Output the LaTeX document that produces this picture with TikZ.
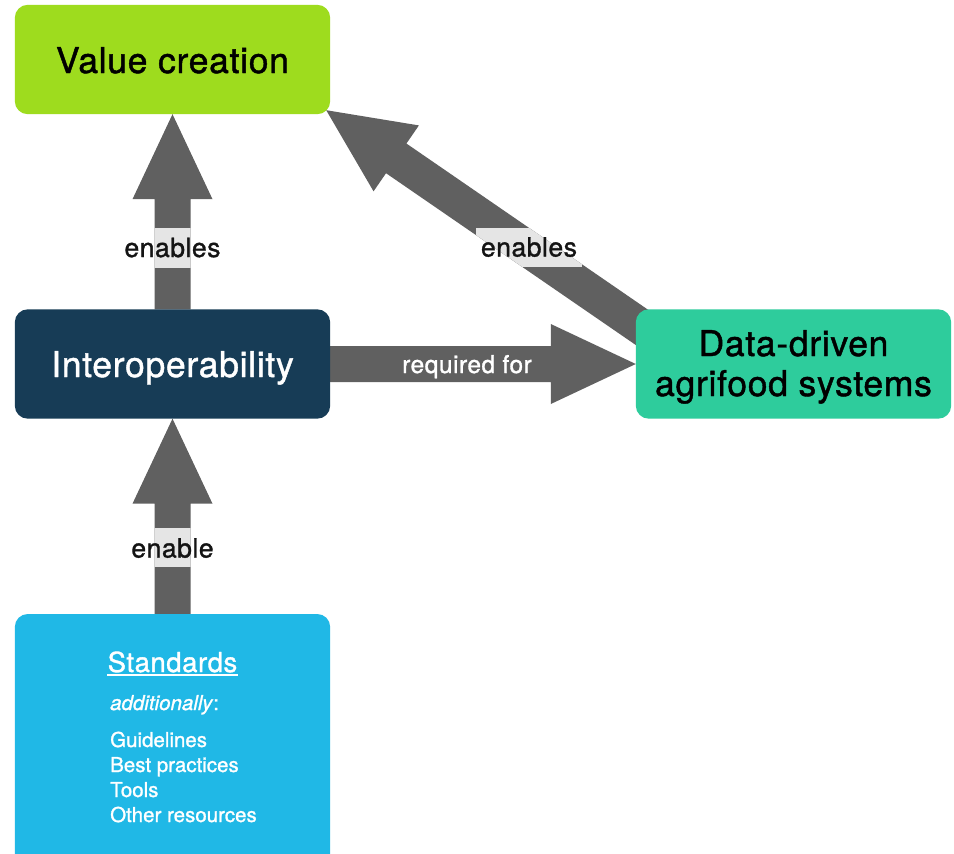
\documentclass[tikz,border=0pt]{standalone}
\usepackage{fontspec}
\setmainfont{TeX Gyre Heros}[FakeBold=1.2]
\usetikzlibrary{calc}
\definecolor{valuegreen}{RGB}{158,220,30}
\definecolor{interopblue}{RGB}{23,60,86}
\definecolor{datagreen}{RGB}{46,204,156}
\definecolor{stdblue}{RGB}{32,184,230}
\definecolor{arrowgray}{RGB}{96,96,96}
\definecolor{labelbg}{RGB}{229,229,229}
\definecolor{textdark}{RGB}{20,20,20}

% block arrow geometry: prefix, start, tip
\newcommand\mkarrow[3]{%
 \coordinate (#1s) at (#2);
 \coordinate (#1t) at (#3);
 \coordinate (#1h) at ($(#1t)!85pt!(#1s)$);
 \coordinate (#1a) at ($(#1s)!18pt!90:(#1t)$);
 \coordinate (#1b) at ($(#1s)!18pt!-90:(#1t)$);
 \coordinate (#1c) at ($(#1h)!18pt!90:(#1t)$);
 \coordinate (#1d) at ($(#1h)!18pt!-90:(#1t)$);
 \coordinate (#1e) at ($(#1h)!40pt!90:(#1t)$);
 \coordinate (#1f) at ($(#1h)!40pt!-90:(#1t)$);
}
\newcommand\drawblockarrow[1]{\fill[arrowgray] (#1a) -- (#1c) -- (#1e) -- (#1t) -- (#1f) -- (#1d) -- (#1b) -- cycle;}
\newcommand\clipblockarrow[1]{\clip (#1a) -- (#1c) -- (#1e) -- (#1t) -- (#1f) -- (#1d) -- (#1b) -- cycle;}
% label background clipped to the arrow: arrow, center, half width, half height
\newcommand\labelbg[4]{%
 \begin{scope}
 \clipblockarrow{#1}
 \fill[labelbg] ($(#2)+(-#3,-#4)$) rectangle ($(#2)+(#3,#4)$);
 \end{scope}}

\tikzset{
 box/.style={rounded corners=13pt, minimum width=315pt, minimum height=109pt, inner sep=0pt},
 boxtext/.style={anchor=base, inner sep=0pt, font=\fontsize{35.5}{40}\selectfont\addfontfeatures{LetterSpace=2}},
 edgelabel/.style={anchor=base, inner sep=0pt, font=\fontsize{26.5}{30}\selectfont\addfontfeatures{LetterSpace=2}, text=textdark},
 listtext/.style={anchor=base west, inner sep=0pt, font=\fontsize{20.5}{25}\selectfont, text=white},
}

\begin{document}
\begin{tikzpicture}[x=1pt,y=-1pt]
\clip (0,0) rectangle (954,854);
\fill[white] (0,0) rectangle (954,854);

% boxes (positions only, drawn later on top)
\path (172.5,59.5) node[box] (value) {};
\path (172.5,364) node[box] (interop) {};
\path (793.5,364) node[box] (data) {};
\path (172.5,614) node[box, minimum height=260pt, anchor=north] (std) {};

% arrows
\mkarrow{A}{interop.north}{value.south}
\mkarrow{B}{std.north}{interop.south}
\mkarrow{C}{interop.east}{data.west}
\coordinate (dtail) at ($(data.north west)+(22,29)$);
\coordinate (vtip) at ($(value.south east)+(-4,-4)$);
\mkarrow{D}{dtail}{vtip}

\drawblockarrow{A}
\drawblockarrow{B}
\drawblockarrow{C}
\drawblockarrow{D}

% label backgrounds
\coordinate (Abg) at (172.5,248);
\coordinate (Bbg) at (172.5,547.5);
\coordinate (Dbg) at (529,247.5);
\labelbg{A}{Abg}{60}{20}
\labelbg{B}{Bbg}{60}{19.5}
\labelbg{D}{Dbg}{53}{19.5}

% labels
\node[edgelabel] (lblA) at (172.5,257) {enables};
\node[edgelabel] (lblB) at (172.5,557.5) {enable};
\node[edgelabel] (lblD) at (529,256.5) {enables};
\node[edgelabel, text=white, font=\fontsize{24.5}{28}\selectfont\addfontfeatures{LetterSpace=2}] (lblC) at (467,373) {required for};

% boxes drawn
\fill[valuegreen, rounded corners=13pt] (value.north west) rectangle (value.south east);
\fill[interopblue, rounded corners=13pt] (interop.north west) rectangle (interop.south east);
\fill[datagreen, rounded corners=13pt] (data.north west) rectangle (data.south east);
\fill[stdblue, rounded corners=13pt] (std.north west) rectangle (std.south east);

\node[boxtext, text=black] (valuetext) at (172.5,73) {Value creation};
\node[boxtext, text=white] (interoptext) at (172.5,377) {Interoperability};
\node[boxtext, text=black] (datatext1) at (793.5,356) {Data-driven};
\node[boxtext, text=black] (datatext2) at (793.5,396) {agrifood systems};

\node[anchor=base, inner sep=0pt, font=\fontsize{27.5}{30}\selectfont\addfontfeatures{LetterSpace=2}, text=white] (stdtitle) at (172.5,672) {Standards};
\draw[white, line width=1.6pt] ($(stdtitle.base west)+(0,3)$) -- ($(stdtitle.base east)+(0,3)$);
\node[listtext, font=\fontsize{20.5}{25}\selectfont] (addl) at (110,710) {\textit{additionally}:};
\node[listtext] (l1) at (110,747) {Guidelines};
\node[listtext] (l2) at (110,772) {Best practices};
\node[listtext] (l3) at (110,797) {Tools};
\node[listtext] (l4) at (110,822) {Other resources};
\end{tikzpicture}
\end{document}
